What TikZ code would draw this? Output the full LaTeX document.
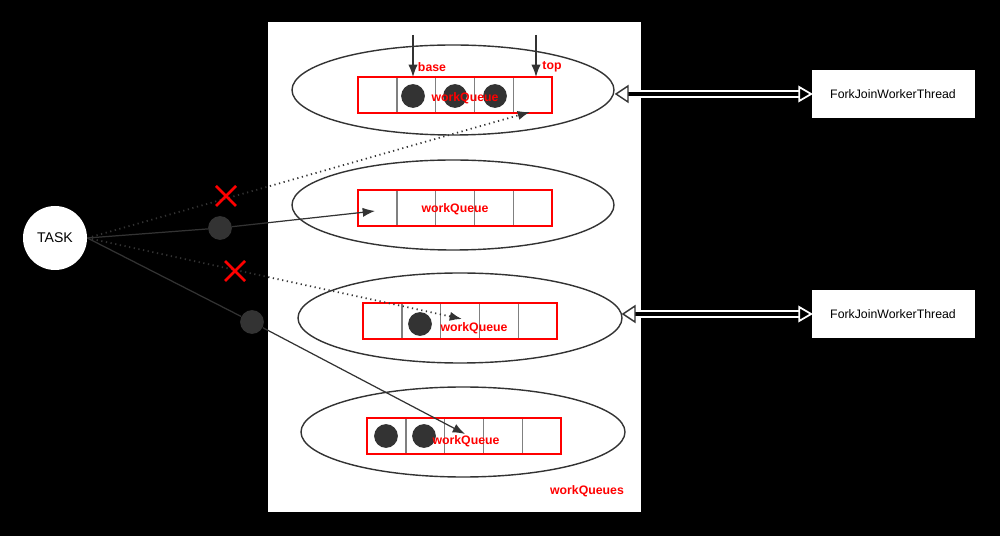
\documentclass[tikz,border=0pt]{standalone}
\usepackage{fontspec}
\setmainfont{Liberation Sans}
\usetikzlibrary{arrows.meta,calc}
\begin{document}
\begin{tikzpicture}[x=0.02cm,y=-0.02cm,
  ell/.style={draw=black!80,line width=0.8pt},
  qbox/.style={draw=red,line width=1pt},
  dotn/.style={circle,fill=black!80,minimum size=18pt*0.75,inner sep=0},
  lbl/.style={text=red,font=\scriptsize\bfseries},
  fj/.style={draw=none,fill=white,minimum width=163*0.02cm,minimum height=48*0.02cm,font=\scriptsize},
  conn/.style={draw=black!80,line width=0.7pt,-{Latex[length=7pt]}},
  dots/.style={conn,dotted,line width=1pt},
  xmark/.style={draw=red,line width=1.5pt}]
\fill[black] (0,0) rectangle (1000,536);
\fill[white] (268,22) rectangle (641,512);
% ellipses
\draw[ell] (453,90) ellipse [x radius=161,y radius=45];
\draw[ell] (453,205) ellipse [x radius=161,y radius=45];
\draw[ell] (460,318) ellipse [x radius=162,y radius=45];
\draw[ell] (463,432) ellipse [x radius=162,y radius=45];
% queues
\foreach \x/\y [count=\i] in {358/77,358/190,363/303,367/418}{
  \foreach \k in {1,2,3,4} \draw[gray,line width=0.8pt] (\x+\k*38.8,\y) -- (\x+\k*38.8,\y+36);
  \draw[qbox] (\x,\y) rectangle (\x+194,\y+36);
}
\node[dotn] (d1) at (413,96) {};
\node[dotn] (d2) at (455,96) {};
\node[dotn] (d3) at (495,96) {};
\node[dotn] (d4) at (420,324) {};
\node[dotn] (d5) at (386,436) {};
\node[dotn] (d6) at (424,436) {};
\node[lbl] (q1) at (465,98) {workQueue};
\node[lbl] (q2) at (455,209) {workQueue};
\node[lbl] (q3) at (474,328) {workQueue};
\node[lbl] (q4) at (466,441) {workQueue};
\node[lbl] at (432,67) {base};
\node[lbl] at (552,67) {top};
\node[lbl] at (587,491) {workQueues};
\coordinate (b0) at (413,35); \coordinate (b1) at (413,77);
\coordinate (t0) at (536,35); \coordinate (t1) at (536,77);
\draw[conn] (b0) -- (b1);
\draw[conn] (t0) -- (t1);
% fork join threads
\node[fj] (f1) at (893,94) {ForkJoinWorkerThread};
\node[fj] (f2) at (893,314) {ForkJoinWorkerThread};
\coordinate (e1) at (616,94);
\coordinate (e2) at (623,314);
\foreach \e/\f in {e1/f1,e2/f2}{
  \draw[white,line width=4pt] ($(\e)+(12,0)$) -- ($(\f.west)+(-10,0)$);
  \draw[black,line width=2pt] ($(\e)+(10,0)$) -- ($(\f.west)+(-8,0)$);
  \draw[black!80,line width=0.8pt,fill=white] (\e) -- ++(12,-8) -- ++(0,16) -- cycle;
  \draw[white,line width=1pt,fill=black] (\f.west) -- ++(-12,-7) -- ++(0,14) -- cycle;
}
% task
\node[circle,fill=white,minimum size=64*0.02cm,font=\footnotesize] (task) at (55,238) {TASK};
\node[dotn] (p1) at (220,228) {};
\node[dotn] (p2) at (252,322) {};
\coordinate (a1) at (530,112);
\coordinate (a2) at (375,211);
\coordinate (a3) at (462,319);
\coordinate (a4) at (465,434);
\draw[dots] (task.east) -- (a1);
\draw[conn] (task.east) -- (p1) -- (a2);
\draw[dots] (task.east) -- (a3);
\draw[conn] (task.east) -- (p2) -- (a4);
\foreach \cx/\cy in {226/196,235/271}
  \draw[xmark] (\cx-10,\cy-10) -- (\cx+10,\cy+10) (\cx-10,\cy+10) -- (\cx+10,\cy-10);
\end{tikzpicture}
\end{document}
